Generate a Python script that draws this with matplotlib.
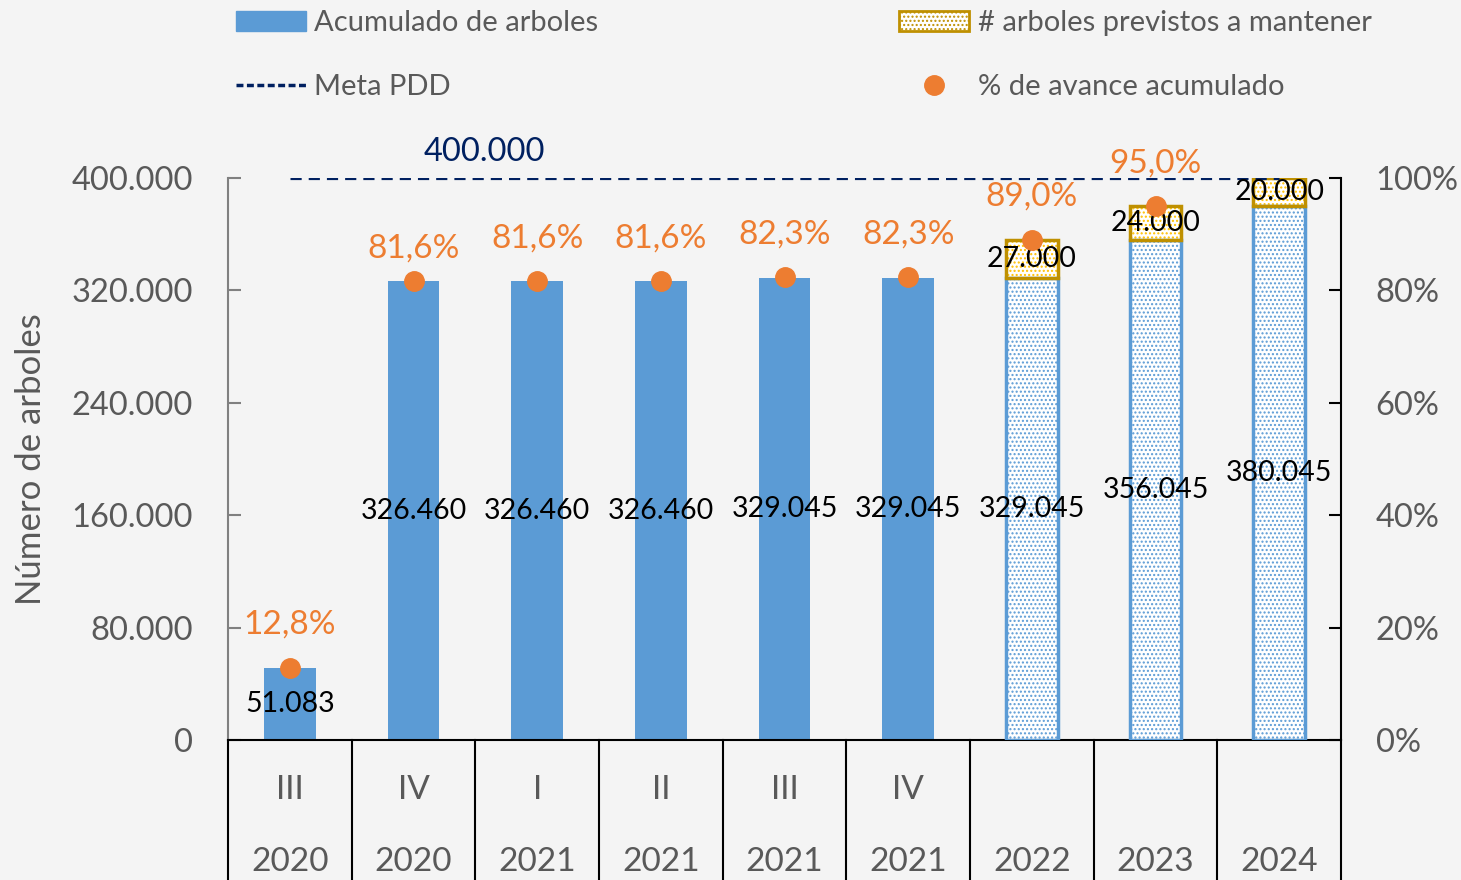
import numpy as np
import matplotlib.pyplot as plt
from matplotlib.patches import Patch
from matplotlib.lines import Line2D
import matplotlib.transforms as mtransforms

plt.rcParams['font.family'] = ['Lato', 'DejaVu Sans']

# datos
trimestres = ['III', 'IV', 'I', 'II', 'III', 'IV', '', '', '']
anios = ['2020', '2020', '2021', '2021', '2021', '2021', '2022', '2023', '2024']
acumulado = [51083, 326460, 326460, 326460, 329045, 329045, 329045, 356045, 380045]
proyectado = [False, False, False, False, False, False, True, True, True]
previstos = [0, 0, 0, 0, 0, 0, 27000, 24000, 20000]
avance = [12.8, 81.6, 81.6, 81.6, 82.3, 82.3, 89.0, 95.0, np.nan]
meta = 400000

azul = '#5b9bd5'
naranja = '#ed7d31'
oro = '#bf9000'
amarillo = '#ffc000'
navy = '#002060'
gris = '#595959'

def fmt_miles(v):
    return f'{v:,.0f}'.replace(',', '.')

fig = plt.figure(figsize=(14.61, 8.8), dpi=100)
fig.patch.set_facecolor('#f4f4f4')
ax = fig.add_axes([228/1461, 140/880, 1113/1461, 562/880])
ax.set_facecolor('none')
x = np.arange(len(anios))
w = 0.42

for i in x:
    if proyectado[i]:
        ax.bar(i, acumulado[i], w, facecolor='white', edgecolor=azul, hatch='....', linewidth=0, zorder=2)
        ax.bar(i, acumulado[i], w, fill=False, edgecolor=azul, linewidth=2.5, zorder=3)
        ax.bar(i, previstos[i], w, bottom=acumulado[i], facecolor='white', edgecolor=amarillo,
               hatch='....', linewidth=0, zorder=2)
        ax.bar(i, previstos[i], w, bottom=acumulado[i], fill=False, edgecolor=oro, linewidth=2.5, zorder=3)
        ax.text(i, acumulado[i] + previstos[i] / 2, fmt_miles(previstos[i]), ha='center', va='center',
                fontsize=20.5, color='black', zorder=6)
    else:
        ax.bar(i, acumulado[i], w, color=azul, zorder=2)
    ax.text(i, acumulado[i] / 2, fmt_miles(acumulado[i]), ha='center', va='center',
            fontsize=20.5, color='black', zorder=6)

# meta
ax.plot(x, [meta] * len(x), color=navy, linestyle=(0, (3.5, 2.2)), linewidth=2.3, zorder=4)
ax.annotate(fmt_miles(meta), (1.57, meta), xytext=(0, 19), textcoords='offset points',
            ha='center', va='center', fontsize=23.5, color=navy)

ax.set_xlim(-0.5, 8.5)
ax.set_ylim(0, 400000)
ax.set_yticks(np.arange(0, 400001, 80000))
ax.set_yticklabels([fmt_miles(v) for v in np.arange(0, 400001, 80000)])
ax.tick_params(axis='y', direction='in', length=9, width=1.5, color='#808080', labelsize=23.5,
               labelcolor=gris, pad=25)
ax.set_xticks([])
for s in ['top', 'right']:
    ax.spines[s].set_visible(False)
ax.spines['left'].set_color('#808080')
ax.spines['left'].set_linewidth(1.5)
ax.spines['bottom'].set_color('black')
ax.spines['bottom'].set_linewidth(1.5)
ax.set_ylabel('Número de arboles', fontsize=25, color=gris, labelpad=18)

# eje secundario
ax2 = ax.twinx()
ax2.set_ylim(0, 100)
ax2.set_yticks(np.arange(0, 101, 20))
ax2.set_yticklabels([f'{v}%' for v in range(0, 101, 20)])
ax2.tick_params(axis='y', direction='in', length=9, width=1.5, color='black', labelsize=23.5,
                labelcolor=gris, pad=25)
for s in ['top', 'left', 'bottom']:
    ax2.spines[s].set_visible(False)
ax2.spines['right'].set_color('black')
ax2.spines['right'].set_linewidth(1.5)
ax2.plot(x, avance, 'o', color=naranja, markersize=14, linestyle='none', zorder=5)
desplaz = [31, 24, 31, 31, 31, 31, 31, 31, 31]
for i, p in enumerate(avance):
    if not np.isnan(p):
        ax2.annotate(f'{p:.1f}%'.replace('.', ','), (i, p), xytext=(0, desplaz[i]), textcoords='offset points',
                     ha='center', va='center', fontsize=24, color=naranja)

# tabla de categorias
trans = mtransforms.blended_transform_factory(ax.transData, ax.transAxes)
for i in range(len(anios) + 1):
    ax.plot([i - 0.5, i - 0.5], [0, -0.26], transform=trans, color='black', linewidth=1.5, clip_on=False)
for i in x:
    ax.text(i, -0.089, trimestres[i], transform=trans, ha='center', va='center', fontsize=24, color=gris)
    ax.text(i, -0.217, anios[i], transform=trans, ha='center', va='center', fontsize=24, color=gris)

# leyenda
h1 = [Patch(facecolor=azul, edgecolor=azul),
      Line2D([], [], color=navy, linestyle=(0, (2, 1)), linewidth=2.5)]
l1 = fig.legend(h1, ['Acumulado de arboles', 'Meta PDD'], loc='upper left',
                bbox_to_anchor=(218/1461, 1.008), frameon=False, fontsize=21, labelcolor=gris,
                handlelength=2.4, handletextpad=0.3, labelspacing=1.3, borderpad=0.1)
h2 = [Patch(facecolor='white', edgecolor=oro, hatch='....', linewidth=2),
      Line2D([], [], marker='o', color=naranja, markersize=14, linestyle='none')]
l2 = fig.legend(h2, ['# arboles previstos a mantener', '% de avance acumulado'], loc='upper left',
                bbox_to_anchor=(882/1461, 1.008), frameon=False, fontsize=21, labelcolor=gris,
                handlelength=2.4, handletextpad=0.3, labelspacing=1.3, borderpad=0.1)

fig.savefig('out.png', dpi=100, facecolor=fig.get_facecolor())
